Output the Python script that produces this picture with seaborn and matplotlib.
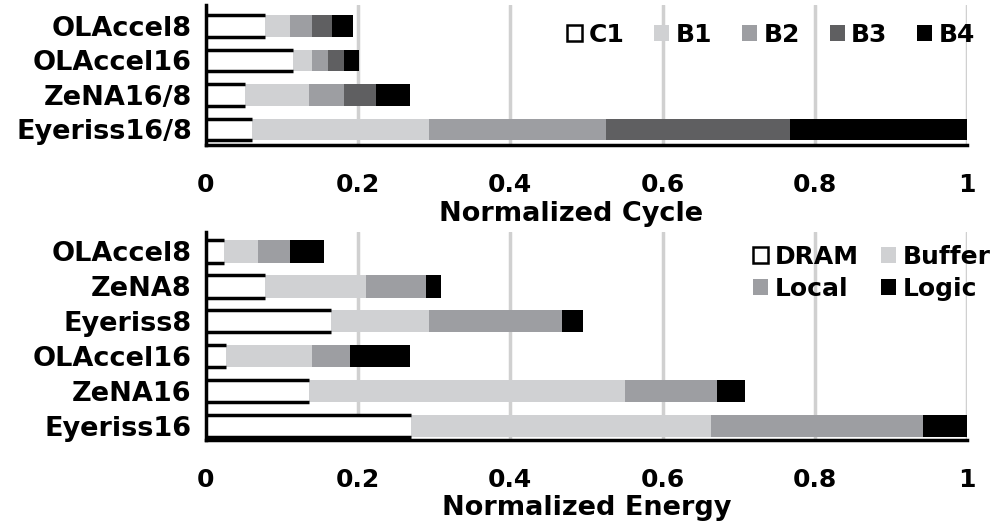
import matplotlib
matplotlib.use("Agg")
import matplotlib.pyplot as plt
import seaborn as sns
import numpy as np
import pandas as pd
from matplotlib.patches import Patch

sns.set_theme(style="white")
plt.rcParams['font.family'] = ['DejaVu Sans']
plt.rcParams['font.weight'] = 'bold'
plt.rcParams['text.color'] = 'black'
plt.rcParams['axes.labelcolor'] = 'black'
plt.rcParams['xtick.color'] = 'black'
plt.rcParams['ytick.color'] = 'black'

# ---- data: top chart (normalized cycle) ----
cycle_cats = ["OLAccel8", "OLAccel16", "ZeNA16/8", "Eyeriss16/8"]
cycle_series = ["C1", "B1", "B2", "B3", "B4"]
c1 = [0.078, 0.115, 0.052, 0.061]
b1 = [0.032, 0.025, 0.084, 0.232]
b2 = [0.030, 0.021, 0.046, 0.233]
b3 = [0.026, 0.021, 0.041, 0.241]
b4 = [0.027, 0.019, 0.045, 0.233]

# ---- data: bottom chart (normalized energy) ----
energy_cats = ["OLAccel8", "ZeNA8", "Eyeriss8", "OLAccel16", "ZeNA16", "Eyeriss16"]
energy_series = ["DRAM", "Buffer", "Local", "Logic"]
dram = [0.024, 0.078, 0.165, 0.027, 0.136, 0.270]
buffer_ = [0.045, 0.133, 0.128, 0.113, 0.415, 0.393]
local = [0.041, 0.078, 0.175, 0.050, 0.121, 0.279]
logic = [0.045, 0.020, 0.028, 0.078, 0.036, 0.058]

ticks = [0, 0.2, 0.4, 0.6, 0.8, 1]
tick_labels = ["0", "0.2", "0.4", "0.6", "0.8", "1"]

colors_top = ["white", "#d0d1d3", "#9d9ea2", "#5f5f61", "#000000"]
colors_bot = ["white", "#d0d1d3", "#9d9ea2", "#000000"]

FS = 18
FSY = 19.5
FSL = 19.5

fig = plt.figure(figsize=(9.94, 5.32), dpi=100)
ax1 = fig.add_axes([0.207, 0.7274, 0.766, 0.263])
ax2 = fig.add_axes([0.207, 0.173, 0.766, 0.391])


def stacked(ax, cats, series_names, values, colors, bar_h):
    df = pd.DataFrame(dict(zip(series_names, values)), index=cats)
    cum = df.cumsum(axis=1)
    for name, col in reversed(list(zip(series_names, colors))):
        d = pd.DataFrame({"cat": cats, "val": cum[name].values})
        sns.barplot(data=d, y="cat", x="val", orient="h", color=col,
                    width=bar_h, ax=ax, order=cats, saturation=1,
                    edgecolor="none", linewidth=0, zorder=3)
    first = cum[series_names[0]].values
    ypos = np.arange(len(cats))
    ax.hlines(ypos - bar_h / 2, 0, first, color="black", lw=2.5, zorder=4)
    ax.hlines(ypos + bar_h / 2, 0, first, color="black", lw=2.5, zorder=4)


def style(ax, xlabel, xl_x, lpad):
    ax.set_xlim(0, 1.0)
    ax.set_xticks(ticks)
    ax.set_xticklabels(tick_labels, fontsize=FS, fontweight="bold")
    ax.set_xlabel(xlabel, fontsize=FSL, fontweight="bold", labelpad=lpad, x=xl_x)
    ax.set_ylabel("")
    for lab in ax.get_yticklabels():
        lab.set_fontsize(FSY)
        lab.set_fontweight("bold")
    ax.grid(axis="x", color="#d0d0d0", lw=2.5, zorder=0)
    ax.grid(axis="y", visible=False)
    for s in ["top", "right"]:
        ax.spines[s].set_visible(False)
    for s in ["left", "bottom"]:
        ax.spines[s].set_color("black")
        ax.spines[s].set_linewidth(2.5)
        ax.spines[s].set_zorder(5)
    ax.tick_params(axis="x", direction="out", length=8, width=2, color="black", pad=12)
    ax.tick_params(axis="y", length=0, pad=10)


stacked(ax1, cycle_cats, cycle_series, [c1, b1, b2, b3, b4], colors_top, 0.62)
style(ax1, "Normalized Cycle", 0.48, 3)
ax1.set_ylim(3.45, -0.6)

stacked(ax2, energy_cats, energy_series, [dram, buffer_, local, logic], colors_bot, 0.65)
style(ax2, "Normalized Energy", 0.5, 2.5)
ax2.set_ylim(5.4, -0.55)


def handles(colors):
    return [Patch(facecolor=c, edgecolor="black" if c == "white" else c,
                  lw=1.8 if c == "white" else 0) for c in colors]


ax1.legend(handles(colors_top), cycle_series, ncol=5, loc="upper right",
           bbox_to_anchor=(1.04, 1.035), frameon=False, handlelength=0.6,
           handleheight=0.6, handletextpad=0.25, columnspacing=1.2,
           prop={"weight": "bold", "size": FS})

hb = handles(colors_bot)
order = [0, 2, 1, 3]
ax2.legend([hb[i] for i in order], [energy_series[i] for i in order], ncol=2,
           loc="upper right", bbox_to_anchor=(1.06, 1.045), frameon=False,
           handlelength=0.6, handleheight=0.6, handletextpad=0.25,
           columnspacing=0.9, labelspacing=0.3,
           prop={"weight": "bold", "size": FS})

fig.savefig("out.png", dpi=100)
